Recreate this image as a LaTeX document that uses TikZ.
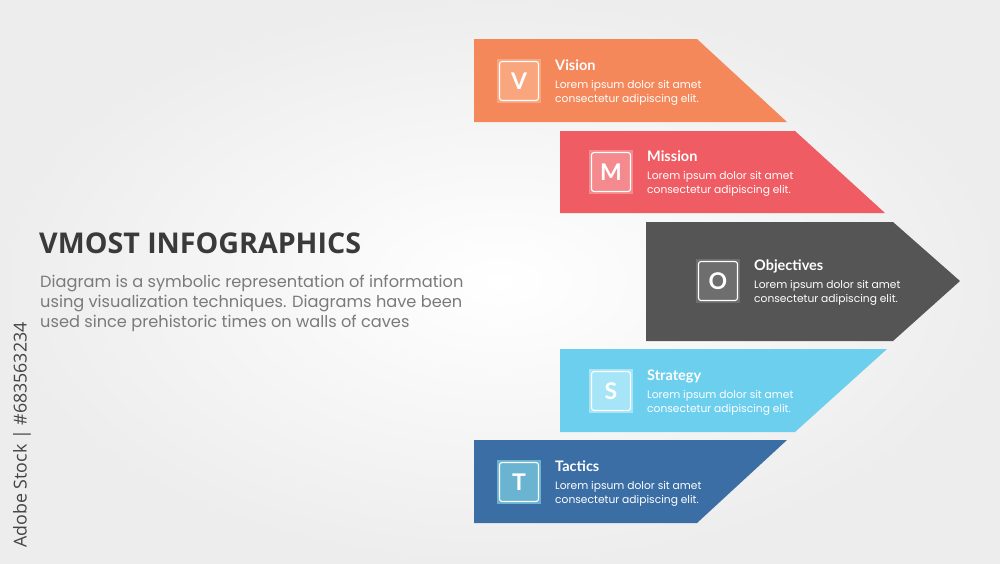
\documentclass[tikz,border=0pt]{standalone}
\usepackage{fontspec}
\setmainfont{Poppins}
\newfontfamily\latofont{Lato}
\newfontfamily\opensansfont{Open Sans}
\definecolor{cV}{HTML}{F5885A}
\definecolor{cM}{HTML}{EF5C63}
\definecolor{cO}{HTML}{555555}
\definecolor{cS}{HTML}{6CCFEE}
\definecolor{cT}{HTML}{3B6EA5}
\definecolor{iV}{HTML}{F9A57E}
\definecolor{iM}{HTML}{F48A8E}
\definecolor{iO}{HTML}{6E6E6E}
\definecolor{iS}{HTML}{A6E5F7}
\definecolor{iT}{HTML}{6AB4D2}
\definecolor{titlegray}{HTML}{3A3A3A}
\definecolor{bodygray}{HTML}{7A7A7A}
\definecolor{stockgray}{HTML}{444444}
\tikzset{
  iconbox/.style={minimum size=44pt, inner sep=0pt, text=white,
    font=\latofont\bfseries\fontsize{23}{23}\selectfont,
    path picture={\draw[white, line width=1.1pt, rounded corners=2.5pt]
      ([shift={(2.5pt,-2.5pt)}]path picture bounding box.north west) rectangle
      ([shift={(-2.5pt,2.5pt)}]path picture bounding box.south east);}},
  headtext/.style={anchor=base west, inner sep=0pt, text=white,
    font=\latofont\bfseries\fontsize{14.5}{16}\selectfont},
  loremtext/.style={anchor=north west, inner sep=0pt, text=white, align=left,
    font=\fontsize{10.7}{13.5}\selectfont},
}
\begin{document}
\begin{tikzpicture}[x=1pt,y=-1pt]
\useasboundingbox (0,0) rectangle (1000,563);
\shade[inner color=white, outer color=black!7] (0,0) rectangle (1000,563);
% arrow shapes
\fill[cV] (474,39) -- (697,39) -- (787,122) -- (474,122) -- cycle;
\fill[cM] (560,131) -- (795,131) -- (885,213) -- (560,213) -- cycle;
\fill[cO] (646,222) -- (893,222) -- (960,281) -- (893,341) -- (646,341) -- cycle;
\fill[cS] (560,349) -- (887,349) -- (795,432) -- (560,432) -- cycle;
\fill[cT] (474,440) -- (787,440) -- (697,523) -- (474,523) -- cycle;
% items
\foreach \n/\L/\name/\cx/\cy/\ic in {V/V/Vision/519/81/iV, M/M/Mission/611/172/iM, O/O/Objectives/718/281/iO, S/S/Strategy/611/391/iS, T/T/Tactics/519/482/iT}{
  \node[iconbox, fill=\ic] (icon\n) at (\cx,\cy) {\L};
  \node[headtext] (head\n) at (\cx+36,\cy-11) {\name};
  \node[loremtext] (lorem\n) at (\cx+36,\cy-0.5) {Lorem ipsum dolor sit amet\\consectetur adipiscing elit.};
}
% title and description
\node[anchor=base west, inner sep=0pt, text=titlegray,
  font=\opensansfont\bfseries\fontsize{28.6}{30}\selectfont] (title) at (39,253) {VMOST INFOGRAPHICS};
\node[anchor=north west, inner sep=0pt, text=bodygray, align=left,
  font=\fontsize{16.2}{20}\selectfont] (desc) at (40,275)
  {Diagram is a symbolic representation of information\\using visualization techniques. Diagrams have been\\used since prehistoric times on walls of caves};
% stock id
\node[rotate=90, inner sep=0pt, text=stockgray,
  font=\opensansfont\fontsize{17.8}{18}\selectfont] (stock) at (22,435) {Adobe Stock | \#683563234};
\end{tikzpicture}
\end{document}
